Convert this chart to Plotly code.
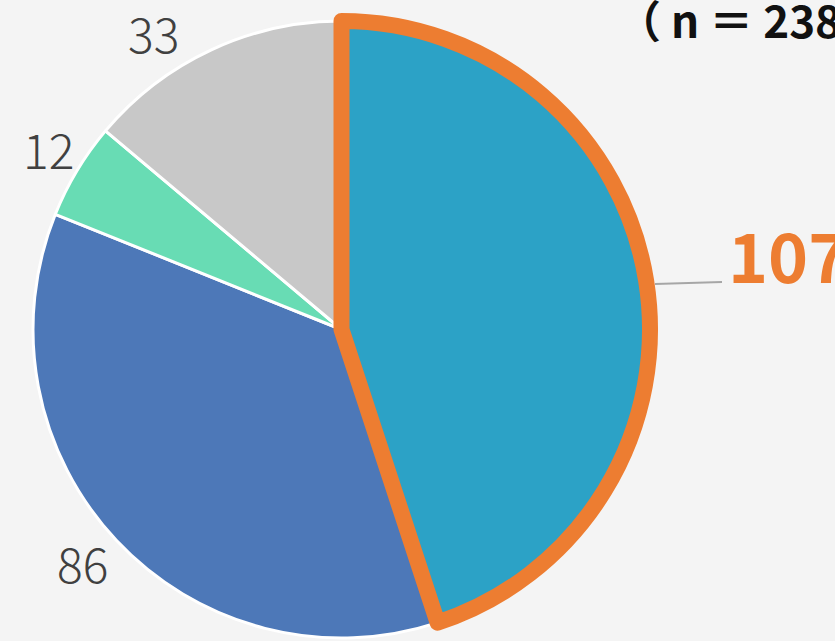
import plotly.graph_objects as go

# Response counts, clockwise from 12 o'clock
categories = ["A", "B", "C", "D"]
values = [107, 86, 12, 33]
total_n = sum(values)

colors = ["#2ca2c6", "#4d78b8", "#68dcb4", "#c8c8c8"]
highlight = "#ed7d31"
bg = "#f4f4f4"

W, H = 835, 641
CX, CY, R = 341.5, 329.5, 308.5  # pie centre and radius in pixels

# label anchor points (pixels) and the callout line for the highlighted slice
label_pos = [(726, 253), (82, 562), (48.5, 148.5), (153, 31.5)]
callout = ((655, 284), (722, 282))


def px(x):
    return x / W


def py(y):
    return 1 - y / H


domain = dict(x=[px(CX - R), px(CX + R)], y=[py(CY + R), py(CY - R)])

fig = go.Figure()

# base pie with thin white separators
fig.add_trace(go.Pie(
    labels=categories, values=values, sort=False, direction="clockwise",
    rotation=0, domain=domain, textinfo="none", hoverinfo="skip",
    marker=dict(colors=colors, line=dict(color="white", width=3)),
    showlegend=False,
))

# highlighted slice drawn on top with a thick orange outline
fig.add_trace(go.Pie(
    labels=categories, values=values, sort=False, direction="clockwise",
    rotation=0, domain=domain, textinfo="none", hoverinfo="skip",
    marker=dict(
        colors=[colors[0]] + ["rgba(0,0,0,0)"] * (len(values) - 1),
        line=dict(color=[highlight] + ["rgba(0,0,0,0)"] * (len(values) - 1),
                  width=[16] + [0] * (len(values) - 1)),
    ),
    showlegend=False,
))

font_family = "Noto Sans CJK JP"

annotations = []
for i, (v, (lx, ly)) in enumerate(zip(values, label_pos)):
    if i == 0:
        annotations.append(dict(
            x=px(lx), y=py(ly), xref="paper", yref="paper", text=f"<b>{v}</b>",
            showarrow=False, xanchor="left", yanchor="middle",
            font=dict(family=font_family, size=68, color=highlight),
        ))
    else:
        annotations.append(dict(
            x=px(lx), y=py(ly), xref="paper", yref="paper", text=str(v),
            showarrow=False, xanchor="center", yanchor="middle",
            font=dict(family=font_family, size=48, color="#404040", weight=300),
        ))

annotations.append(dict(
    x=px(615), y=py(19), xref="paper", yref="paper",
    text=f"<b>（ n ＝ {total_n}）</b>",
    showarrow=False, xanchor="left", yanchor="middle",
    font=dict(family=font_family, size=44, color="#111111"),
))

(x0, y0), (x1, y1) = callout
fig.add_shape(type="line", xref="paper", yref="paper",
              x0=px(x0), y0=py(y0), x1=px(x1), y1=py(y1),
              line=dict(color="#a6a6a6", width=2))

fig.update_layout(
    width=W, height=H, autosize=False,
    margin=dict(l=0, r=0, t=0, b=0),
    paper_bgcolor=bg, plot_bgcolor=bg,
    annotations=annotations,
)

fig.write_html("out.html")
